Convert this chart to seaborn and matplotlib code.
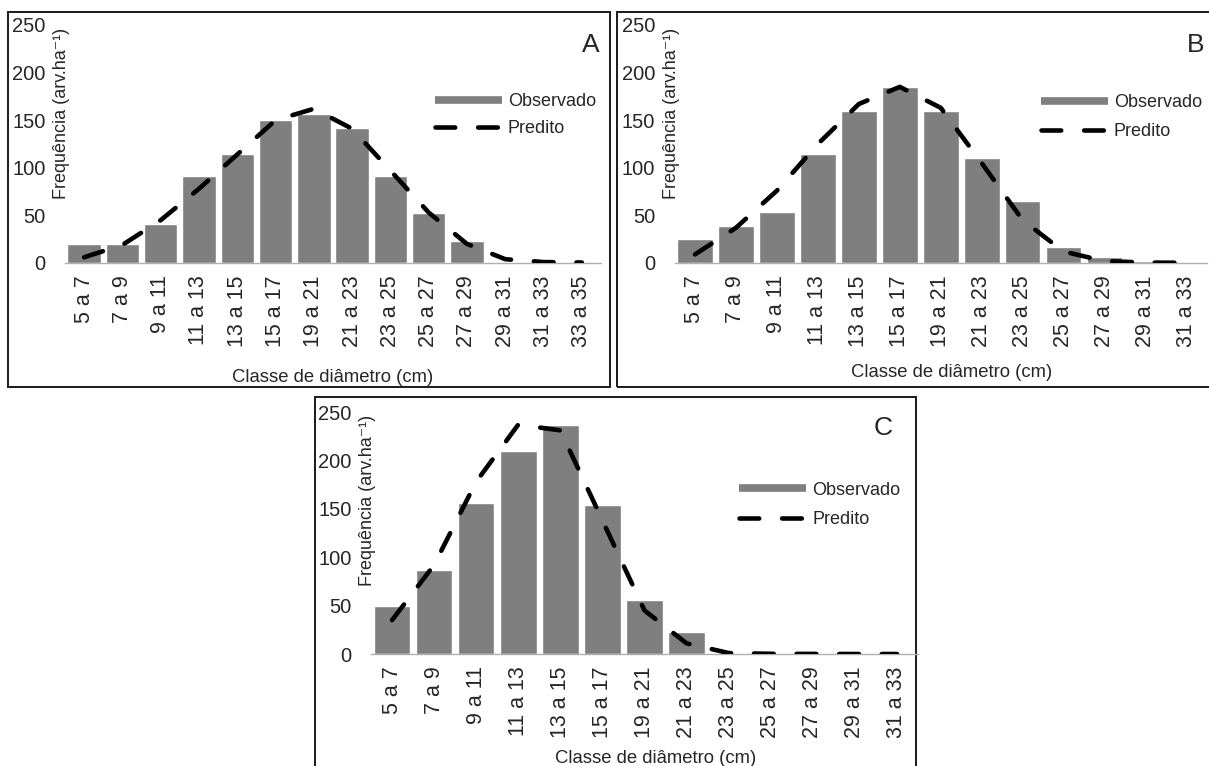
import numpy as np
import pandas as pd
import matplotlib
matplotlib.use("Agg")
import matplotlib.pyplot as plt
import seaborn as sns
from matplotlib.lines import Line2D
from matplotlib.patches import Rectangle

# ---------------- data ----------------
classes_a = ["5 a 7", "7 a 9", "9 a 11", "11 a 13", "13 a 15", "15 a 17", "19 a 21",
             "21 a 23", "23 a 25", "25 a 27", "27 a 29", "29 a 31", "31 a 33", "33 a 35"]
obs_a = [20, 20, 41, 91, 115, 150, 157, 142, 91, 52, 23, 1.5, 0, 0]
pred_a = [6, 19, 45, 78, 114, 150, 162, 141, 97, 53, 20, 4, 1, 0.5]

classes_b = ["5 a 7", "7 a 9", "9 a 11", "11 a 13", "13 a 15", "15 a 17", "19 a 21",
             "21 a 23", "23 a 25", "25 a 27", "27 a 29", "29 a 31", "31 a 33"]
obs_b = [25, 39, 54, 115, 160, 185, 160, 110, 65, 17, 6, 2, 0.5]
pred_b = [9, 37, 76, 125, 167, 185, 163, 105, 45, 12, 2, 0.5, 0.2]

classes_c = ["5 a 7", "7 a 9", "9 a 11", "11 a 13", "13 a 15", "15 a 17", "19 a 21",
             "21 a 23", "23 a 25", "25 a 27", "27 a 29", "29 a 31", "31 a 33"]
obs_c = [50, 87, 156, 210, 237, 154, 56, 23, 0, 0, 0, 0, 0]
pred_c = [35, 92, 178, 237, 231, 138, 45, 11, 1, 0.2, 0.1, 0, 0]

yticks = [0, 50, 100, 150, 200, 250]
xlabel = "Classe de diâmetro (cm)"
ylabel = "Frequência (arv.ha⁻¹)"
leg_labels = ["Observado", "Predito"]

# ---------------- style ----------------
sns.set_theme(style="white")
plt.rcParams["font.family"] = ["Liberation Sans", "DejaVu Sans"]
FS = 13
FS_XT = 15.5
FS_YT = 14.5
BAR = "#7f7f7f"

W, H = 1209, 766
fig = plt.figure(figsize=(W / 100, H / 100), dpi=100)
fig.patch.set_facecolor("white")


def px_rect(x0, y0, x1, y1):
    """figure-fraction rectangle from pixel box (top-left origin)"""
    return [x0 / W, 1 - y1 / H, (x1 - x0) / W, (y1 - y0) / H]


def panel(box, frame, cats, obs, pred, letter, leg_xy, letter_xy, xl_xy, lspace):
    fx0, fy0, fx1, fy1 = frame
    r = px_rect(fx0, fy0, fx1, fy1)
    fig.add_artist(Rectangle((r[0], r[1]), r[2], r[3], transform=fig.transFigure,
                             fill=False, edgecolor="#1a1a1a", lw=1.4, zorder=0))
    ax = fig.add_axes(px_rect(*box))
    ax.set_facecolor("none")
    df = pd.DataFrame({"classe": cats, "obs": obs, "pred": pred})
    df["pos"] = np.arange(len(df))
    sns.barplot(data=df, x="classe", y="obs", color=BAR, saturation=1, width=0.87,
                ax=ax, zorder=2)
    sns.lineplot(data=df, x="pos", y="pred", ax=ax, color="black", lw=3.3,
                 dashes=False, zorder=3)
    ln = ax.lines[-1]
    ln.set_dashes((4.3, 5.0))
    ln.set_dash_capstyle("round")
    ax.set_ylim(0, 250)
    ax.set_xlim(-0.5, len(cats) - 0.5)
    ax.set_yticks(yticks)
    ax.set_xticks(range(len(cats)))
    ax.set_xticklabels(cats, rotation=90, fontsize=FS_XT)
    ax.tick_params(axis="y", labelsize=FS_YT, length=0, pad=14)
    ax.tick_params(axis="x", length=0, pad=9)
    for s in ["top", "right", "left"]:
        ax.spines[s].set_visible(False)
    ax.spines["bottom"].set_color("#b0b0b0")
    ax.spines["bottom"].set_linewidth(1.0)
    ax.grid(False)
    ax.set_xlabel(xlabel, fontsize=13.3)
    ax.xaxis.label.set_va("center")
    ax.xaxis.set_label_coords(*xl_xy)
    ax.set_ylabel(ylabel, fontsize=FS, loc="top")
    ax.yaxis.label.set_va("center")
    ax.yaxis.set_label_coords(-0.006, 0.99)
    handles = [Line2D([], [], color=BAR, lw=5.5, solid_capstyle="butt"),
               Line2D([], [], color="black", lw=3.3, dashes=(4.3, 5.0),
                      dash_capstyle="round")]
    ax.legend(handles, leg_labels, loc="center left", bbox_to_anchor=leg_xy,
              frameon=False, fontsize=FS, handlelength=3.7, handletextpad=0.35,
              borderpad=0, borderaxespad=0, labelspacing=lspace)
    ax.text(letter_xy[0], letter_xy[1], letter, transform=ax.transAxes,
            fontsize=19, ha="center", va="center")
    return ax


panel((65, 25, 601, 263), (8, 12, 610, 387), classes_a, obs_a, pred_a, "A",
      (0.690, 0.622), (0.981, 0.916), (0.5, -0.479), 0.55)
panel((674.5, 25, 1207, 263), (617, 12, 1216, 387), classes_b, obs_b, pred_b, "B",
      (0.688, 0.613), (0.979, 0.916), (0.52, -0.462), 0.68)
panel((371, 412, 918, 654), (315, 397, 916, 772), classes_c, obs_c, pred_c, "C",
      (0.673, 0.616), (0.936, 0.934), (0.52, -0.43), 0.68)

fig.savefig("out.png", dpi=100, facecolor="white")
